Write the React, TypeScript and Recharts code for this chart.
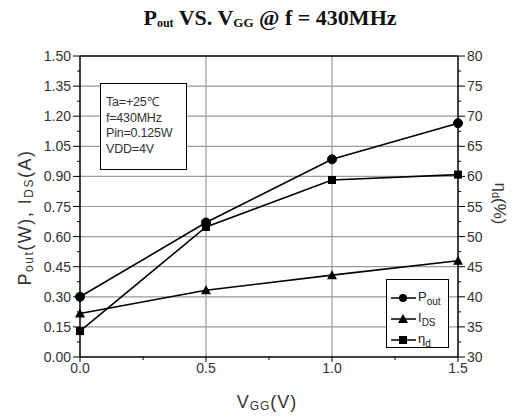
import { ComposedChart, Line, XAxis, YAxis, ReferenceLine, Legend, Label } from "recharts"

// V_GG sweep and measured values
const vgg = [0, 0.5, 1.0, 1.5]
const pout = [0.3, 0.67, 0.985, 1.165]
const ids = [0.217, 0.333, 0.408, 0.48]
const eta = [34.3, 51.6, 59.4, 60.3]

const leftTicks = [0, 0.15, 0.3, 0.45, 0.6, 0.75, 0.9, 1.05, 1.2, 1.35, 1.5]
const rightTicks = [30, 35, 40, 45, 50, 55, 60, 65, 70, 75, 80]
const xTicks = [0, 0.5, 1.0, 1.5]
const conditions = ["Ta=+25\u2103", "f=430MHz", "Pin=0.125W", "VDD=4V"]

const withMinor = (major: number[]) => {
  const out: number[] = []
  major.forEach((t, i) => {
    out.push(t)
    if (i < major.length - 1) out.push((t + major[i + 1]) / 2)
  })
  return out
}

const data = vgg.map((v, i) => ({ vgg: v, pout: pout[i], ids: ids[i], eta: eta[i] }))

const isMajor = (list: number[], v: number) => list.some((t) => Math.abs(t - v) < 1e-6)
const sans = "'Liberation Sans', Arial, sans-serif"
const tickFont = { fontFamily: sans, fontSize: 14, fill: "#333" }

const LeftTick = ({ x, y, payload }: any) => {
  const major = isMajor(leftTicks, payload.value)
  return (
    <g>
      <line x1={x} x2={x - (major ? 7 : 3)} y1={y} y2={y} stroke="#000" />
      {major && (
        <text x={x - 9} y={y} textAnchor="end" dominantBaseline="central" {...tickFont}>
          {payload.value.toFixed(2)}
        </text>
      )}
    </g>
  )
}

const RightTick = ({ x, y, payload }: any) => {
  const major = isMajor(rightTicks, payload.value)
  return (
    <g>
      <line x1={x} x2={x + (major ? 7 : 3)} y1={y} y2={y} stroke="#000" />
      {major && (
        <text x={x + 9} y={y} textAnchor="start" dominantBaseline="central" {...tickFont}>
          {payload.value}
        </text>
      )}
    </g>
  )
}

const BottomTick = ({ x, y, payload }: any) => {
  const major = isMajor(xTicks, payload.value)
  return (
    <g>
      <line x1={x} x2={x} y1={y} y2={y + (major ? 5 : 3)} stroke="#000" />
      {major && (
        <text x={x} y={y + 11} textAnchor="middle" dominantBaseline="central" {...tickFont}>
          {payload.value.toFixed(1)}
        </text>
      )}
    </g>
  )
}

const Triangle = ({ cx, cy, index }: any) => (
  <polygon key={`t${index}`} points={`${cx},${cy - 5} ${cx - 5},${cy + 4} ${cx + 5},${cy + 4}`} fill="#000" />
)
const Square = ({ cx, cy, index }: any) => (
  <rect key={`s${index}`} x={cx - 4} y={cy - 4} width={8} height={8} fill="#000" />
)

const legendItems = [
  { key: "pout", main: "P", sub: "out", marker: "circle" },
  { key: "ids", main: "I", sub: "DS", marker: "triangle" },
  { key: "eta", main: "\u03b7", sub: "d", marker: "square" },
]

const LegendBox = () => (
  <div style={{ border: "1px solid #000", background: "#fff", width: 63, height: 69, boxSizing: "border-box", padding: "7px 0 0 3px" }}>
    {legendItems.map((it) => (
      <div key={it.key} style={{ display: "flex", alignItems: "center", height: 21, fontFamily: sans, fontSize: 13, color: "#222" }}>
        <svg width={27} height={12}>
          <line x1={1} x2={26} y1={6} y2={6} stroke="#000" strokeWidth={1.5} />
          {it.marker === "circle" && <circle cx={13} cy={6} r={4} fill="#000" />}
          {it.marker === "triangle" && <polygon points="13,1 8,10 18,10" fill="#000" />}
          {it.marker === "square" && <rect x={9} y={2} width={8} height={8} fill="#000" />}
        </svg>
        <span style={{ marginLeft: 1 }}>
          {it.main}
          <sub style={{ fontSize: 10, verticalAlign: -4 }}>{it.sub}</sub>
        </span>
      </div>
    ))}
  </div>
)

export default function App() {
  return (
    <div style={{ position: "absolute", left: 0, top: 0, width: 515, height: 419, background: "#fff" }}>
      <div
        style={{
          position: "absolute",
          left: 0,
          width: 540,
          top: 5,
          textAlign: "center",
          fontFamily: "'Liberation Serif', 'Times New Roman', serif",
          fontWeight: "bold",
          fontSize: 22,
          color: "#111",
        }}
      >
        P<sub style={{ fontSize: 12, verticalAlign: -2 }}>out</sub> VS. V<sub style={{ fontSize: 13, verticalAlign: -2 }}>GG</sub> @ f = 430MHz
      </div>
      <ComposedChart width={515} height={419} data={data} margin={{ top: 56, right: 0, bottom: 0, left: 0 }}>
        {leftTicks.slice(1, -1).map((t) => (
          <ReferenceLine key={`h${t}`} yAxisId="left" y={t} stroke="#9a9a9a" strokeWidth={1.2} />
        ))}
        {xTicks.slice(1, -1).map((t) => (
          <ReferenceLine key={`v${t}`} yAxisId="left" x={t} stroke="#9a9a9a" strokeWidth={1.2} />
        ))}
        <ReferenceLine yAxisId="left" y={1.5} stroke="#000" strokeWidth={1.5} />
        <XAxis
          dataKey="vgg"
          type="number"
          domain={[0, 1.5]}
          ticks={withMinor(xTicks)}
          height={62}
          tickSize={0}
          tickMargin={0}
          tickLine={false}
          tick={<BottomTick />}
          axisLine={{ stroke: "#000", strokeWidth: 1.5 }}
          interval={0}
        >
          <Label
            content={({ viewBox }: any) => (
              <text
                x={viewBox.x + viewBox.width / 2 - 2}
                y={viewBox.y + 45}
                textAnchor="middle"
                dominantBaseline="central"
                fontFamily={sans}
                fontSize={18}
                letterSpacing={1}
                fill="#333"
              >
                V<tspan fontSize={12} dy={4}>GG</tspan>
                <tspan dy={-4}>(V)</tspan>
              </text>
            )}
          />
        </XAxis>
        <YAxis
          yAxisId="left"
          orientation="left"
          width={80}
          domain={[0, 1.5]}
          ticks={withMinor(leftTicks)}
          interval={0}
          tickSize={0}
          tickMargin={0}
          tickLine={false}
          tick={<LeftTick />}
          axisLine={{ stroke: "#000", strokeWidth: 1.5 }}
        >
          <Label
            content={({ viewBox }: any) => {
              const cx = viewBox.x + 25
              const cy = viewBox.y + viewBox.height / 2 + 11
              return (
                <text
                  x={cx}
                  y={cy}
                  transform={`rotate(-90, ${cx}, ${cy})`}
                  textAnchor="middle"
                  dominantBaseline="central"
                  fontFamily={sans}
                  fontSize={18}
                  letterSpacing={1.5}
                  fill="#333"
                >
                  P<tspan fontSize={12} dy={4}>out</tspan>
                  <tspan dy={-4}>(W), I</tspan>
                  <tspan fontSize={12} dy={4}>DS</tspan>
                  <tspan dy={-4}>(A)</tspan>
                </text>
              )
            }}
          />
        </YAxis>
        <YAxis
          yAxisId="right"
          orientation="right"
          width={57}
          domain={[30, 80]}
          ticks={withMinor(rightTicks)}
          interval={0}
          tickSize={0}
          tickMargin={0}
          tickLine={false}
          tick={<RightTick />}
          axisLine={{ stroke: "#000", strokeWidth: 1.5 }}
        >
          <Label
            content={({ viewBox }: any) => {
              const cx = viewBox.x + 42
              const cy = viewBox.y + viewBox.height / 2 - 3
              return (
                <text
                  x={cx}
                  y={cy}
                  transform={`rotate(90, ${cx}, ${cy})`}
                  textAnchor="middle"
                  dominantBaseline="central"
                  fontFamily={sans}
                  fontSize={17}
                  fill="#333"
                >
                  {"\u03b7"}
                  <tspan fontSize={11} dy={4}>d</tspan>
                  <tspan dy={-4}>(%)</tspan>
                </text>
              )
            }}
          />
        </YAxis>
        <Line
          yAxisId="left"
          dataKey="pout"
          type="linear"
          stroke="#000"
          strokeWidth={1.6}
          dot={{ r: 4.5, fill: "#000", stroke: "#000", strokeWidth: 1 }}
          isAnimationActive={false}
        />
        <Line
          yAxisId="left"
          dataKey="ids"
          type="linear"
          stroke="#000"
          strokeWidth={1.6}
          dot={<Triangle />}
          isAnimationActive={false}
        />
        <Line
          yAxisId="right"
          dataKey="eta"
          type="linear"
          stroke="#000"
          strokeWidth={1.6}
          dot={<Square />}
          isAnimationActive={false}
        />
        <Legend
          layout="vertical"
          align="center"
          verticalAlign="middle"
          content={<LegendBox />}
          wrapperStyle={{ left: 386, top: 279, width: 63, height: 69 }}
        />
      </ComposedChart>
      <div
        style={{
          position: "absolute",
          left: 100,
          top: 83,
          width: 87,
          height: 87,
          boxSizing: "border-box",
          border: "1px solid #000",
          background: "#fff",
          padding: "11px 0 0 5px",
          fontFamily: sans,
          fontSize: 12.5,
          lineHeight: "15.5px",
          color: "#333",
          letterSpacing: -0.2,
        }}
      >
        {conditions.map((c) => (
          <div key={c}>{c}</div>
        ))}
      </div>
    </div>
  )
}
